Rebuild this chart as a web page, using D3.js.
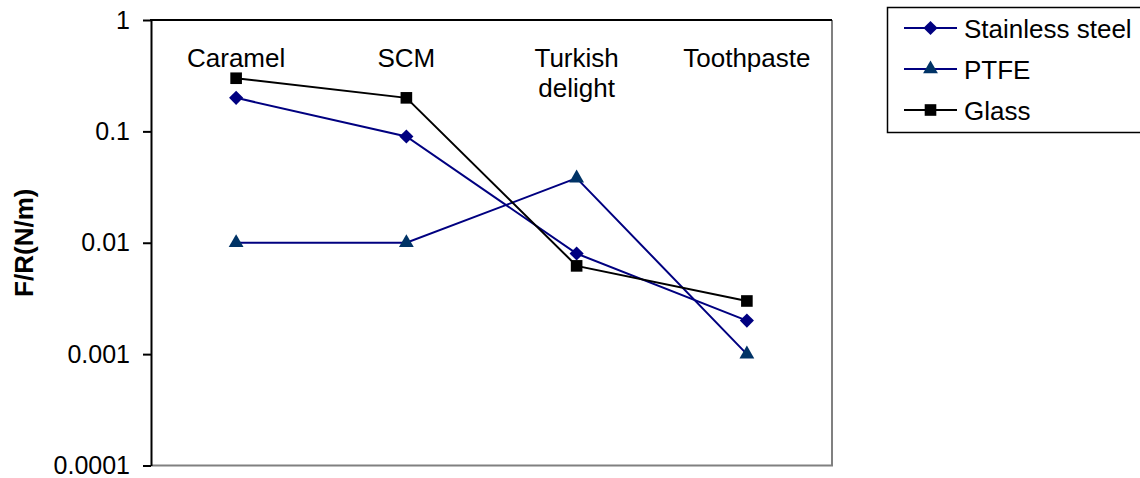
<!DOCTYPE html>
<html>
<head>
<meta charset="utf-8">
<script src="https://cdn.jsdelivr.net/npm/d3@7"></script>
<style>
  body { margin: 0; background: #fff; }
  text { font-family: "Liberation Sans", Arial, sans-serif; fill: #000; }
</style>
</head>
<body>
<div class="canvas"></div>
<script>
const WIDTH = 1140;
const HEIGHT = 478;

// data
const categories = ['Caramel', 'SCM', 'Turkish delight', 'Toothpaste'];
const stainless = [0.2, 0.09, 0.008, 0.002];
const ptfe = [0.01, 0.01, 0.038, 0.001];
const glass = [0.3, 0.2, 0.0062, 0.003];
const yTicks = [0.0001, 0.001, 0.01, 0.1, 1];
const yTickLabels = ['0.0001', '0.001', '0.01', '0.1', '1'];
const seriesNames = ['Stainless steel', 'PTFE', 'Glass'];

// plot box
const plotLeft = 151, plotRight = 832, plotTop = 20, plotBottom = 465.5;

const series = [
  { name: seriesNames[0], values: stainless, line: '#000080', fill: '#000080', shape: 'diamond' },
  { name: seriesNames[1], values: ptfe, line: '#000080', fill: '#003366', shape: 'triangle' },
  { name: seriesNames[2], values: glass, line: '#000000', fill: '#000000', shape: 'square' }
];

const svg = d3.select('.canvas')
  .append('svg')
    .attr('width', WIDTH)
    .attr('height', HEIGHT);

// scales
const x = d3.scaleBand()
  .domain(categories)
  .range([plotLeft, plotRight]);

const y = d3.scaleLog()
  .domain([0.0001, 1])
  .range([plotBottom, plotTop]);

const cx = c => x(c) + x.bandwidth() / 2;

// right & bottom border (gray)
svg.append('path')
  .attr('d', `M${plotLeft},${plotBottom}H${plotRight}V${plotTop}`)
  .attr('fill', 'none')
  .attr('stroke', '#808080')
  .attr('stroke-width', 2);

// y axis
const yAxis = d3.axisLeft(y)
  .tickValues(yTicks)
  .tickFormat((d, i) => yTickLabels[i])
  .tickSize(8)
  .tickSizeOuter(0)
  .tickPadding(13);

const yAxisGroup = svg.append('g')
  .attr('transform', `translate(${plotLeft}, 0)`)
  .call(yAxis);

yAxisGroup.selectAll('text')
  .style('font-size', '25px')
  .style('font-family', '"Liberation Sans", Arial, sans-serif');
yAxisGroup.selectAll('path, line')
  .attr('stroke', '#000')
  .attr('stroke-width', 2);

// category axis along the top, labels inside
const xAxis = d3.axisBottom(x)
  .tickSize(0)
  .tickSizeOuter(0)
  .tickPadding(29);

const xAxisGroup = svg.append('g')
  .attr('transform', `translate(0, ${plotTop})`)
  .call(xAxis);

xAxisGroup.select('.domain')
  .attr('stroke', '#000')
  .attr('stroke-width', 2)
  .attr('d', `M${plotLeft - 1},0H${plotRight}`);

xAxisGroup.selectAll('text')
  .style('font-size', '26px')
  .style('font-family', '"Liberation Sans", Arial, sans-serif')
  .each(function(d) {
    const t = d3.select(this);
    if (this.getComputedTextLength() > 150) {
      const words = d.split(' ');
      t.text(null);
      words.forEach((w, i) => {
        t.append('tspan')
          .attr('x', 0)
          .attr('dy', i === 0 ? '0.71em' : '30px')
          .text(w);
      });
      t.attr('dy', null);
    }
  });

// y axis title
svg.append('text')
  .attr('transform', `translate(33, ${(plotTop + plotBottom) / 2}) rotate(-90)`)
  .attr('text-anchor', 'middle')
  .style('font-size', '26px')
  .style('font-weight', 'bold')
  .text('F/R(N/m)');

// markers
const markerPath = shape => {
  if (shape === 'diamond') return d3.symbol(d3.symbolSquare, 100)();
  if (shape === 'triangle') return d3.symbol(d3.symbolTriangle, 95)();
  return d3.symbol(d3.symbolSquare, 135)();
};
const markerRotate = shape => shape === 'diamond' ? ' rotate(45)' : '';

const line = d3.line()
  .x((d, i) => cx(categories[i]))
  .y(d => y(d));

series.forEach(s => {
  svg.append('path')
    .datum(s.values)
    .attr('fill', 'none')
    .attr('stroke', s.line)
    .attr('stroke-width', 2)
    .attr('d', line);
});

series.forEach(s => {
  svg.append('g').selectAll('path')
    .data(s.values)
    .enter().append('path')
      .attr('d', markerPath(s.shape))
      .attr('fill', s.fill)
      .attr('transform', (d, i) => `translate(${cx(categories[i])}, ${y(d)})${markerRotate(s.shape)}`);
});

// legend
const legend = svg.append('g');
legend.append('rect')
  .attr('x', 887.5)
  .attr('y', 7.5)
  .attr('width', 270)
  .attr('height', 125)
  .attr('fill', '#fff')
  .attr('stroke', '#000')
  .attr('stroke-width', 1.5);

series.forEach((s, i) => {
  const ly = 28 + i * 41;
  legend.append('line')
    .attr('x1', 904).attr('x2', 957)
    .attr('y1', ly).attr('y2', ly)
    .attr('stroke', s.line)
    .attr('stroke-width', 2);
  legend.append('path')
    .attr('d', markerPath(s.shape))
    .attr('fill', s.fill)
    .attr('transform', `translate(930.5, ${ly})${markerRotate(s.shape)}`);
  legend.append('text')
    .attr('x', 964)
    .attr('y', ly + 9.5)
    .style('font-size', '26px')
    .text(s.name);
});
</script>
</body>
</html>
